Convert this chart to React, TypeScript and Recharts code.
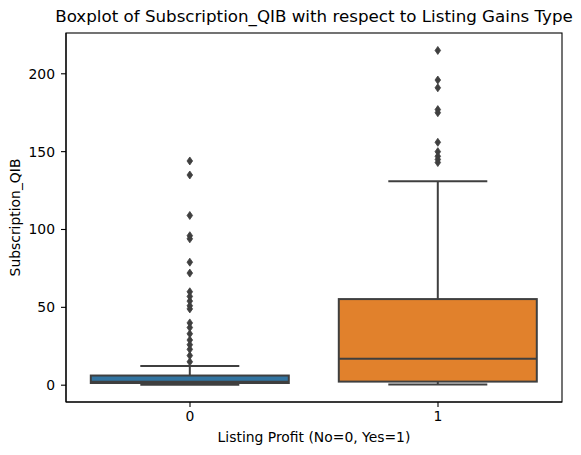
import { ComposedChart, Bar, XAxis, YAxis } from 'recharts'

const groups = ['0', '1']
const q1 = [1.4, 2.3]
const median = [2.2, 16.9]
const q3 = [6.2, 55.3]
const whiskerLow = [0.3, 0.4]
const whiskerHigh = [12.3, 131]
const outliers0 = [144, 135, 109, 96, 94, 79, 72, 60, 57, 54, 51, 49, 40, 37, 33, 29, 26, 23, 19, 15]
const outliers1 = [215, 196, 191, 177, 175, 156, 150, 147, 145, 143]
const yTicks = [0, 50, 100, 150, 200]

const boxColors = ['#3274a1', '#e1812c']
const edge = '#3f3f3f'
const font = 'DejaVu Sans'

const W = 581
const H = 455
const margin = { top: 33, right: 19, bottom: 23, left: 0 }
const yAxisWidth = 66
const xAxisHeight = 30
// plot frame, derived from the layout numbers above
const plotX = margin.left + yAxisWidth
const plotY = margin.top
const plotW = W - margin.right - plotX
const plotH = H - margin.bottom - xAxisHeight - plotY

const data = groups.map((g, i) => ({
  group: g,
  box: [q1[i], q3[i]],
  q1: q1[i],
  median: median[i],
  q3: q3[i],
  lo: whiskerLow[i],
  hi: whiskerHigh[i],
  fliers: i === 0 ? outliers0 : outliers1,
  color: boxColors[i],
}))

function BoxShape(props: any) {
  const { x, y, width, height, payload } = props
  const top = Math.min(y, y + height)
  const h = Math.abs(height)
  const k = h / (payload.q3 - payload.q1)
  const py = (v: number) => top + (payload.q3 - v) * k
  const cx = x + width / 2
  const capHalf = width / 4
  return (
    <g>
      <line x1={cx} x2={cx} y1={py(payload.q3)} y2={py(payload.hi)} stroke={edge} strokeWidth={2} />
      <line x1={cx} x2={cx} y1={py(payload.q1)} y2={py(payload.lo)} stroke={edge} strokeWidth={2} />
      <line x1={cx - capHalf} x2={cx + capHalf} y1={py(payload.hi)} y2={py(payload.hi)} stroke={edge} strokeWidth={2} />
      <line x1={cx - capHalf} x2={cx + capHalf} y1={py(payload.lo)} y2={py(payload.lo)} stroke={edge} strokeWidth={2} />
      <rect x={x} y={top} width={width} height={h} fill={payload.color} stroke={edge} strokeWidth={2} />
      <line x1={x} x2={x + width} y1={py(payload.median)} y2={py(payload.median)} stroke={edge} strokeWidth={2} />
      {payload.fliers.map((v: number, j: number) => {
        const fy = py(v)
        return (
          <path
            key={j}
            d={`M${cx},${fy - 4} L${cx + 2.8},${fy} L${cx},${fy + 4} L${cx - 2.8},${fy} Z`}
            fill={edge}
            stroke={edge}
            strokeWidth={0.8}
          />
        )
      })}
    </g>
  )
}

export default function App() {
  return (
    <div style={{ position: 'relative', width: W, height: H, background: '#fff' }}>
      <style>{'body{margin:0}'}</style>
      <ComposedChart width={W} height={H} data={data} margin={margin} barCategoryGap="10%">
        <XAxis
          dataKey="group"
          height={xAxisHeight}
          tick={{ fill: '#000', fontSize: 13.9, fontFamily: font }}
          tickSize={5}
          tickMargin={4}
          axisLine={{ stroke: '#000', strokeWidth: 1.1 }}
          tickLine={{ stroke: '#000', strokeWidth: 1.1 }}
        />
        <YAxis
          type="number"
          domain={[-10.8, 226.2]}
          ticks={yTicks}
          width={yAxisWidth}
          allowDataOverflow
          tick={{ fill: '#000', fontSize: 13.9, fontFamily: font }}
          tickSize={5}
          tickMargin={6}
          axisLine={{ stroke: '#000', strokeWidth: 1.1 }}
          tickLine={{ stroke: '#000', strokeWidth: 1.1 }}
        />
        <Bar dataKey="box" shape={BoxShape} isAnimationActive={false} />
      </ComposedChart>
      <svg width={W} height={H} style={{ position: 'absolute', left: 0, top: 0, pointerEvents: 'none' }}>
        <rect x={plotX} y={plotY} width={plotW} height={plotH} fill="none" stroke="#000" strokeWidth={1.1} />
        <text x={plotX + plotW / 2} y={22} textAnchor="middle" fontFamily={font} fontSize={16.7} fill="#000">
          Boxplot of Subscription_QIB with respect to Listing Gains Type
        </text>
        <text x={plotX + plotW / 2} y={441.5} textAnchor="middle" fontFamily={font} fontSize={13.9} fill="#000">
          Listing Profit (No=0, Yes=1)
        </text>
        <text x={20} y={plotY + plotH / 2} textAnchor="middle" fontFamily={font} fontSize={13.9} fill="#000"
          transform={`rotate(-90 20 ${plotY + plotH / 2})`}>
          Subscription_QIB
        </text>
      </svg>
    </div>
  )
}
